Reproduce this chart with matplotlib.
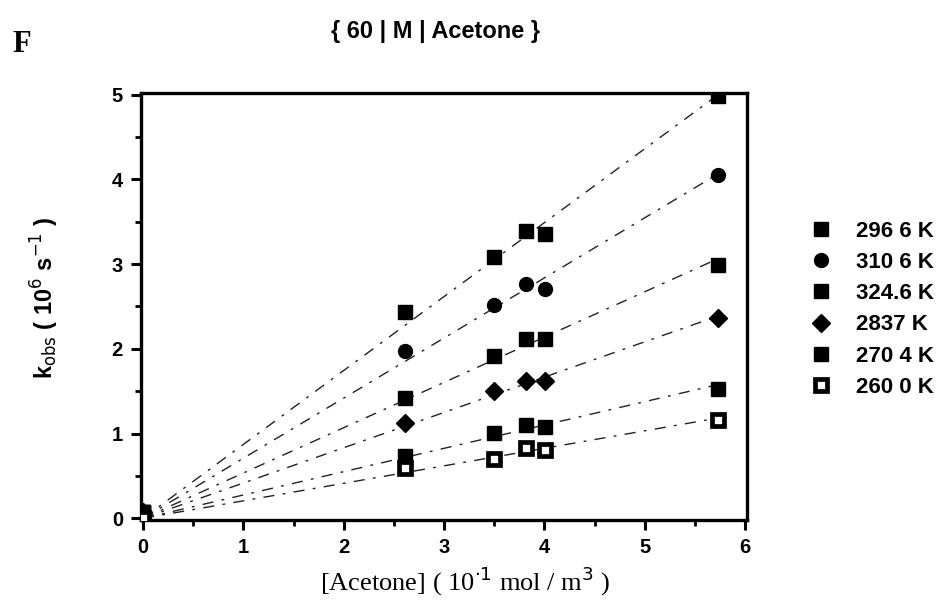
import numpy as np
import matplotlib
matplotlib.use("Agg")
import matplotlib.pyplot as plt
from matplotlib.lines import Line2D

# Acetone concentration (10^-1 mol / m^3)
acetone = [0.0, 2.61, 3.50, 3.82, 4.01, 5.73]

# k_obs (10^6 s^-1) for each temperature
k_2966 = [0.08, 2.43, 3.08, 3.39, 3.35, 4.98]
k_3106 = [0.08, 1.97, 2.52, 2.76, 2.71, 4.05]
k_3246 = [0.08, 1.42, 1.92, 2.12, 2.12, 2.99]
k_2837 = [0.08, 1.13, 1.50, 1.62, 1.62, 2.36]
k_2704 = [0.08, 0.73, 1.01, 1.10, 1.08, 1.53]
k_2600 = [0.00, 0.59, 0.70, 0.83, 0.81, 1.16]

labels = ["296 6 K", "310 6 K", "324.6 K", "2837 K", "270 4 K", "260 0 K"]
series = [k_2966, k_3106, k_3246, k_2837, k_2704, k_2600]
markers = ["s", "o", "s", "D", "s", "s"]
filled = [True, True, True, True, True, False]

xticks = [0, 1, 2, 3, 4, 5, 6]
yticks = [0, 1, 2, 3, 4, 5]

sans = ["Liberation Sans", "DejaVu Sans"]
serif = ["Liberation Serif", "DejaVu Serif"]


def marker_style(m, f):
    return dict(marker=m,
                markersize=(9.0 if m == "D" else (8.5 if not f else 10.0)),
                markerfacecolor="black" if f else "white",
                markeredgecolor="black",
                markeredgewidth=3.4 if not f else 1.0)


fig = plt.figure(figsize=(9.53, 6.13), dpi=100)
ax = fig.add_axes([0.148, 0.1517, 0.636, 0.6966])

x = np.asarray(acetone)
xfit = np.linspace(0, x.max(), 50)
for ys, m, f in zip(series, markers, filled):
    y = np.asarray(ys)
    # straight-line fit through the origin
    slope = np.sum(x * y) / np.sum(x * x)
    ax.plot(xfit, slope * xfit, color="#222222", lw=1.0,
            linestyle=(0, (8, 6, 2, 6)), zorder=2)
    ax.plot(x, y, linestyle="none", zorder=3, **marker_style(m, f))

ax.set_xlim(-0.02, 6.02)
ax.set_ylim(-0.02, 5.02)
ax.set_xticks(xticks)
ax.set_yticks(yticks)
ax.set_xticks(np.arange(0.5, 6, 1.0), minor=True)
ax.set_yticks(np.arange(0.5, 5, 1.0), minor=True)
ax.tick_params(which="major", direction="out", length=7, width=2.2,
               labelsize=14.5, pad=6)
ax.tick_params(which="minor", direction="out", length=4, width=2.0)
for lab in ax.get_xticklabels() + ax.get_yticklabels():
    lab.set_fontfamily(sans)
    lab.set_fontweight("bold")
for sp in ax.spines.values():
    sp.set_linewidth(2.4)

ax.set_xlabel("[Acetone] ( 10$^{\\cdot 1}$ mol / m$^3$ )", fontsize=19,
              family=serif)
ax.xaxis.set_label_coords(0.535, -0.105)
ax.set_ylabel("k$_{\\rm obs}$ ( 10$^6$ s$^{-1}$ )", fontsize=17,
              family=sans, fontweight="bold")
ax.yaxis.set_label_coords(-0.132, 0.52)

fig.text(0.457, 0.948, "{ 60 | M | Acetone }", ha="center", va="center",
         fontsize=17, fontweight="bold", family=sans)
fig.text(0.023, 0.927, "F", ha="center", va="center", fontsize=22,
         fontweight="bold", family=serif)

handles = [Line2D([], [], linestyle="none", **marker_style(m, f))
           for m, f in zip(markers, filled)]
leg = fig.legend(handles, labels, loc="upper left",
                 bbox_to_anchor=(0.838, 0.658), frameon=False,
                 prop={"family": sans, "weight": "bold", "size": 16},
                 handlelength=1.0, handletextpad=1.1, labelspacing=0.46,
                 borderpad=0.0)

fig.savefig("out.png", dpi=100)
